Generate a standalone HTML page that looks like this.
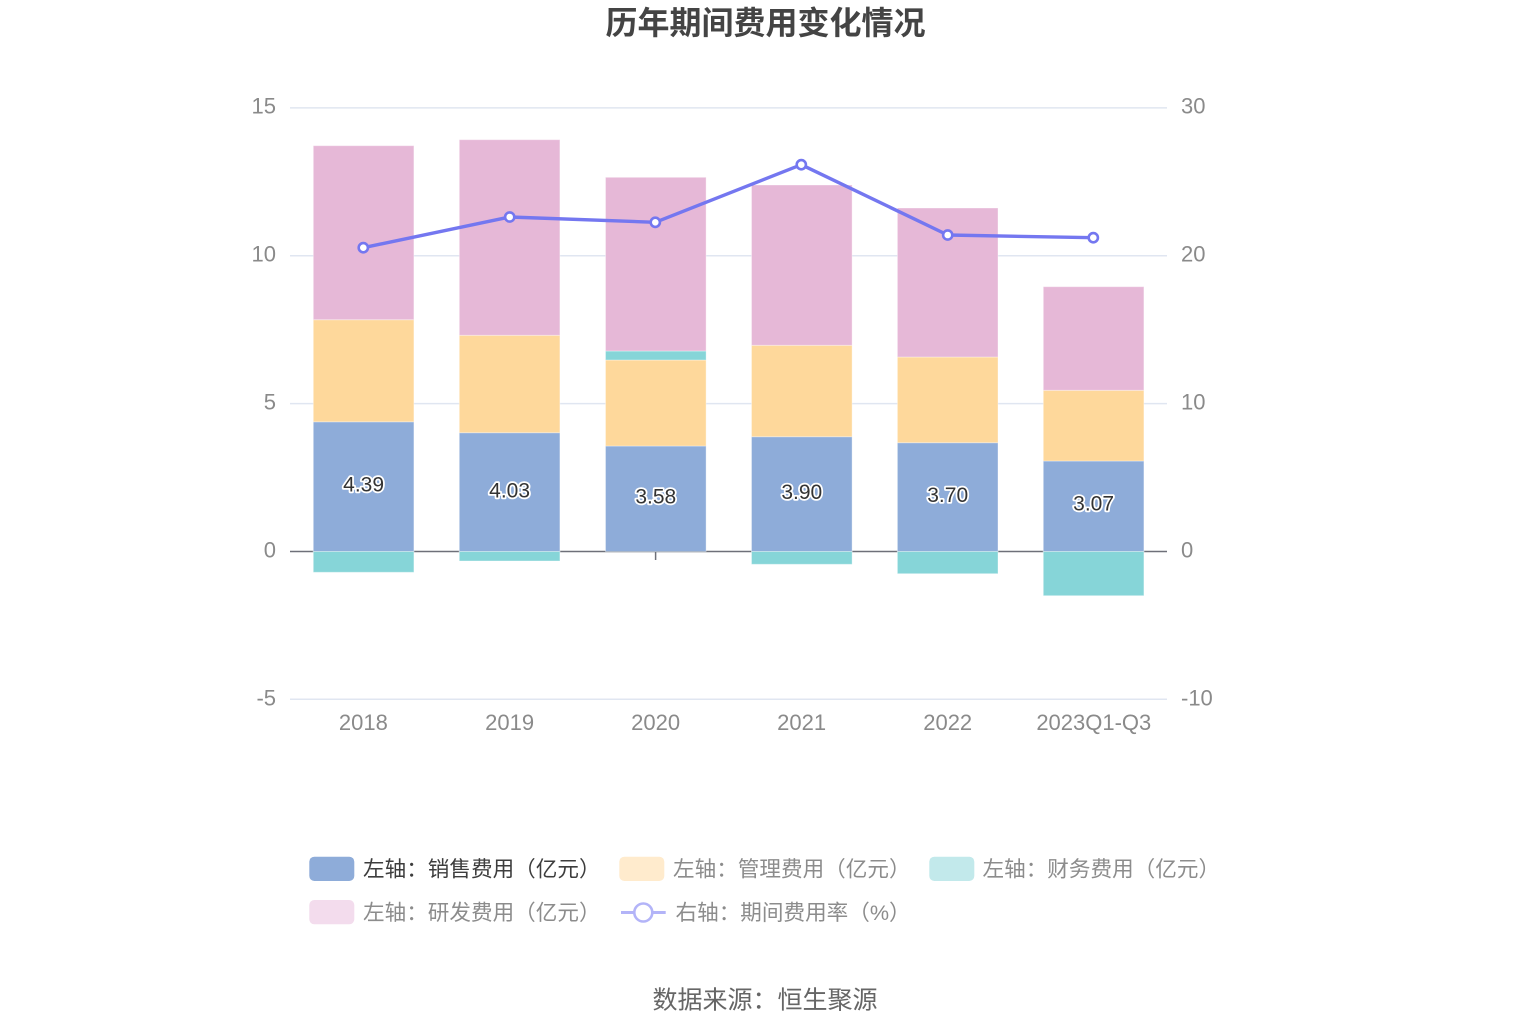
<!DOCTYPE html>
<html>
<head>
<meta charset="utf-8">
<style>
  html, body { margin: 0; padding: 0; background: #ffffff; }
  body { width: 1531px; height: 1034px; overflow: hidden; }
  svg { display: block; }
  .cjk { font-family: "Liberation Sans", "Noto Sans CJK SC", "WenQuanYi Zen Hei", sans-serif; }
  .num { font-family: "Liberation Sans", "DejaVu Sans", sans-serif; }
</style>
</head>
<body>
<svg width="1531" height="1034" viewBox="0 0 1531 1034" xmlns="http://www.w3.org/2000/svg">
  <rect x="0" y="0" width="1531" height="1034" fill="#ffffff"/>

  <!-- Title -->
  <text class="cjk" x="765.5" y="23" text-anchor="middle" dominant-baseline="central" font-size="32" font-weight="bold" fill="#444444">历年期间费用变化情况</text>

  <!-- Grid lines -->
  <g stroke="#e0e6f1" stroke-width="1.5">
    <line x1="290" y1="107.9" x2="1167" y2="107.9"/>
    <line x1="290" y1="255.7" x2="1167" y2="255.7"/>
    <line x1="290" y1="403.6" x2="1167" y2="403.6"/>
    <line x1="290" y1="699.3" x2="1167" y2="699.3"/>
  </g>

  <!-- axis ticks (under bars) -->
  <g stroke="#6e7079" stroke-width="1.5">
    <line x1="363.4" y1="551.5" x2="363.4" y2="560"/>
    <line x1="509.6" y1="551.5" x2="509.6" y2="560"/>
    <line x1="655.6" y1="551.5" x2="655.6" y2="560"/>
    <line x1="801.6" y1="551.5" x2="801.6" y2="560"/>
    <line x1="947.7" y1="551.5" x2="947.7" y2="560"/>
    <line x1="1093.8" y1="551.5" x2="1093.8" y2="560"/>
  </g>
  <!-- zero axis line -->
  <line x1="290" y1="551.5" x2="1167" y2="551.5" stroke="#6e7079" stroke-width="1.5"/>

  <!-- Bars -->
  <g stroke="#ffffff" stroke-opacity="0.35" stroke-width="1">
    <!-- 2018 -->
    <rect x="313.3" y="421.8" width="100.6" height="129.7" fill="#8eacd9"/>
    <rect x="313.3" y="319.7" width="100.6" height="102.1" fill="#fed89b"/>
    <rect x="313.3" y="145.7" width="100.6" height="174.0" fill="#e6b8d7"/>
    <rect x="313.3" y="551.5" width="100.6" height="20.8" fill="#86d5d8"/>
    <!-- 2019 -->
    <rect x="459.3" y="432.7" width="100.6" height="118.8" fill="#8eacd9"/>
    <rect x="459.3" y="335.3" width="100.6" height="97.4" fill="#fed89b"/>
    <rect x="459.3" y="139.7" width="100.6" height="195.6" fill="#e6b8d7"/>
    <rect x="459.3" y="551.5" width="100.6" height="9.5" fill="#86d5d8"/>
    <!-- 2020 -->
    <rect x="605.5" y="446.0" width="100.6" height="105.5" fill="#8eacd9"/>
    <rect x="605.5" y="360.0" width="100.6" height="86.0" fill="#fed89b"/>
    <rect x="605.5" y="351.0" width="100.6" height="9.0" fill="#86d5d8"/>
    <rect x="605.5" y="177.3" width="100.6" height="173.7" fill="#e6b8d7"/>
    <!-- 2021 -->
    <rect x="751.5" y="436.7" width="100.6" height="114.8" fill="#8eacd9"/>
    <rect x="751.5" y="345.3" width="100.6" height="91.4" fill="#fed89b"/>
    <rect x="751.5" y="185.0" width="100.6" height="160.3" fill="#e6b8d7"/>
    <rect x="751.5" y="551.5" width="100.6" height="12.8" fill="#86d5d8"/>
    <!-- 2022 -->
    <rect x="897.4" y="442.7" width="100.6" height="108.8" fill="#8eacd9"/>
    <rect x="897.4" y="357.0" width="100.6" height="85.7" fill="#fed89b"/>
    <rect x="897.4" y="208.0" width="100.6" height="149.0" fill="#e6b8d7"/>
    <rect x="897.4" y="551.5" width="100.6" height="22.2" fill="#86d5d8"/>
    <!-- 2023Q1-Q3 -->
    <rect x="1043.3" y="461.0" width="100.6" height="90.5" fill="#8eacd9"/>
    <rect x="1043.3" y="390.3" width="100.6" height="70.7" fill="#fed89b"/>
    <rect x="1043.3" y="286.7" width="100.6" height="103.6" fill="#e6b8d7"/>
    <rect x="1043.3" y="551.5" width="100.6" height="44.2" fill="#86d5d8"/>
  </g>

  <!-- Bar value labels -->
  <g class="num" font-size="21" fill="#333333" stroke="#ffffff" stroke-width="3.5" stroke-linejoin="round" paint-order="stroke" text-anchor="middle" dominant-baseline="central">
    <text x="363.6" y="485">4.39</text>
    <text x="509.6" y="491">4.03</text>
    <text x="655.8" y="497">3.58</text>
    <text x="801.8" y="492.5">3.90</text>
    <text x="947.7" y="495.5">3.70</text>
    <text x="1093.6" y="504">3.07</text>
  </g>

  <!-- Line series -->
  <polyline points="363.3,247.7 509.7,217 655.3,222.3 801.3,164.7 947.7,235 1093.3,237.7" fill="none" stroke="#7477f0" stroke-width="3.4" stroke-linejoin="round"/>
  <g fill="#ffffff" stroke="#7477f0" stroke-width="2.6">
    <circle cx="363.3" cy="247.7" r="4.6"/>
    <circle cx="509.7" cy="217" r="4.6"/>
    <circle cx="655.3" cy="222.3" r="4.6"/>
    <circle cx="801.3" cy="164.7" r="4.6"/>
    <circle cx="947.7" cy="235" r="4.6"/>
    <circle cx="1093.3" cy="237.7" r="4.6"/>
  </g>

  <!-- Left axis labels -->
  <g class="num" font-size="22" fill="#8a8a8a" text-anchor="end" dominant-baseline="central">
    <text x="276" y="106">15</text>
    <text x="276" y="254">10</text>
    <text x="276" y="402">5</text>
    <text x="276" y="550">0</text>
    <text x="276" y="698">-5</text>
  </g>
  <!-- Right axis labels -->
  <g class="num" font-size="22" fill="#8a8a8a" text-anchor="start" dominant-baseline="central">
    <text x="1181" y="106">30</text>
    <text x="1181" y="254">20</text>
    <text x="1181" y="402">10</text>
    <text x="1181" y="550">0</text>
    <text x="1181" y="698">-10</text>
  </g>
  <!-- Category labels -->
  <g class="num" font-size="22" fill="#8a8a8a" text-anchor="middle" dominant-baseline="central">
    <text x="363.4" y="722.5">2018</text>
    <text x="509.6" y="722.5">2019</text>
    <text x="655.6" y="722.5">2020</text>
    <text x="801.6" y="722.5">2021</text>
    <text x="947.7" y="722.5">2022</text>
    <text x="1093.8" y="722.5">2023Q1-Q3</text>
  </g>

  <!-- Legend row 1 -->
  <rect x="309.3" y="856.7" width="45" height="24.3" rx="5" fill="#8eacd9"/>
  <text class="cjk" x="363" y="869" font-size="21.6" fill="#3d3d3d" dominant-baseline="central">左轴：销售费用（亿元）</text>

  <rect x="619.3" y="856.7" width="45" height="24.3" rx="5" fill="#ffebcd"/>
  <text class="cjk" x="673" y="869" font-size="21.6" fill="#8c8c8c" dominant-baseline="central">左轴：管理费用（亿元）</text>

  <rect x="929.3" y="856.7" width="45" height="24.3" rx="5" fill="#c2e9eb"/>
  <text class="cjk" x="982.5" y="869" font-size="21.6" fill="#8c8c8c" dominant-baseline="central">左轴：财务费用（亿元）</text>

  <!-- Legend row 2 -->
  <rect x="309.3" y="900" width="45" height="24.3" rx="5" fill="#f3dced"/>
  <text class="cjk" x="363" y="912.5" font-size="21.6" fill="#8c8c8c" dominant-baseline="central">左轴：研发费用（亿元）</text>

  <line x1="621" y1="912.5" x2="665.7" y2="912.5" stroke="#b3b4f8" stroke-width="3"/>
  <circle cx="643.3" cy="912.5" r="9" fill="#ffffff" stroke="#b3b4f8" stroke-width="2.6"/>
  <text class="cjk" x="675.5" y="912.5" font-size="21.6" fill="#8c8c8c" dominant-baseline="central">右轴：期间费用率（%）</text>

  <!-- Source -->
  <text class="cjk" x="765" y="1000.5" font-size="25" fill="#666666" text-anchor="middle" dominant-baseline="central">数据来源：恒生聚源</text>
</svg>
</body>
</html>
